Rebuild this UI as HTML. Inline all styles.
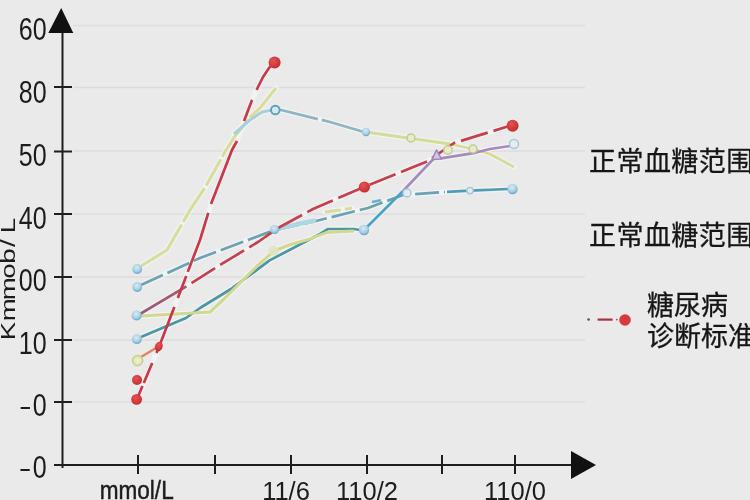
<!DOCTYPE html>
<html><head><meta charset="utf-8"><style>
html,body{margin:0;padding:0;background:#eaeaea;width:750px;height:500px;overflow:hidden}
svg{display:block}
.t{font-family:"Liberation Sans",Arial,sans-serif;fill:#1c1c1c}
.c{font-family:"Liberation Sans","Noto Sans CJK SC",sans-serif;fill:#161616}
</style></head><body>
<svg width="750" height="500" viewBox="0 0 750 500">
<rect width="750" height="500" fill="#eaeaea"/>
<!-- gridlines -->
<g stroke="#dddddd" stroke-width="1.6">
<line x1="73" y1="25.5" x2="585" y2="25.5"/>
<line x1="73" y1="87.5" x2="585" y2="87.5"/>
<line x1="73" y1="151" x2="585" y2="151"/>
<line x1="73" y1="214" x2="585" y2="214"/>
<line x1="73" y1="277" x2="585" y2="277"/>
<line x1="73" y1="340" x2="585" y2="340"/>
<line x1="73" y1="402" x2="585" y2="402"/>
</g>
<!-- axes -->
<g stroke="#1e1e1e" stroke-width="2" fill="none">
<line x1="62.5" y1="28" x2="62.5" y2="468"/>
<line x1="54" y1="465" x2="575" y2="465"/>
<line x1="54" y1="87" x2="72" y2="87"/>
<line x1="54" y1="151.5" x2="72" y2="151.5"/>
<line x1="54" y1="214" x2="72" y2="214"/>
<line x1="54" y1="277" x2="72" y2="277"/>
<line x1="54" y1="340" x2="72" y2="340"/>
<line x1="54" y1="402" x2="72" y2="402"/>
<line x1="138" y1="455" x2="138" y2="474"/>
<line x1="215" y1="455" x2="215" y2="474"/>
<line x1="291" y1="455" x2="291" y2="474"/>
<line x1="367" y1="455" x2="367" y2="474"/>
<line x1="442" y1="455" x2="442" y2="474"/>
<line x1="515" y1="455" x2="515" y2="474"/>
</g>
<polygon points="61.2,8 48.3,33 73.3,33" fill="#111"/>
<polygon points="571,451 596,465 571,479" fill="#111"/>
<!-- y labels -->
<g class="t" font-size="32.2" text-anchor="end" transform="translate(46.7,0) scale(0.778,1)">
<text x="0" y="40.5">60</text>
<text x="0" y="103.5">80</text>
<text x="0" y="166.1">50</text>
<text x="0" y="228.6">40</text>
<text x="0" y="291.2">00</text>
<text x="0" y="353.8">10</text>
<text x="0" y="415.6">0</text>
<text x="0" y="478">0</text>
</g>
<g class="t" font-size="29.5">
<text transform="translate(19,415) scale(1.29,0.9)">-</text>
<text transform="translate(18.7,477) scale(1.29,0.9)">-</text>
</g>
<text class="t" font-size="20" transform="translate(14.8,340.5) rotate(-90) scale(1.38,1)" x="0.17 13.89 29.1 44.81 55.6 67.75 77.7" y="0">Kmmob/L</text>
<!-- x labels -->
<g class="t" font-size="25.5" text-anchor="middle">
<text x="136.7" y="499" textLength="74" lengthAdjust="spacingAndGlyphs" stroke="#1c1c1c" stroke-width="0.45">mmol/L</text>
<text x="286" y="499.5">11/6</text>
<text x="367" y="499.5">110/2</text>
<text x="515" y="499.5">110/0</text>
</g>
<!-- legend -->
<g class="c" font-size="27" stroke="#161616" stroke-width="0.3">
<text x="589" y="171" letter-spacing="0.45">正常血糖范围</text>
<text x="589" y="245" letter-spacing="0.45">正常血糖范围</text>
<text x="647" y="314.5">糖尿病</text>
<text x="647" y="345.5">诊断标准</text>
</g>
<g>
<circle cx="588.6" cy="319.5" r="1.3" fill="#555"/>
<line x1="597.6" y1="319.6" x2="612.6" y2="319.6" stroke="#a8303e" stroke-width="2.2"/>
<circle cx="616.8" cy="319.6" r="0.9" fill="#8a6060"/>
<circle cx="625" cy="320" r="5.8" fill="#d83a3c"/>
</g>
<!-- data lines -->
<defs>
<radialGradient id="gb" cx="0.45" cy="0.35" r="0.75">
<stop offset="0" stop-color="#d8ecf4"/><stop offset="0.55" stop-color="#a6cee2"/><stop offset="1" stop-color="#4a8fbe"/>
</radialGradient>
<radialGradient id="gr" cx="0.4" cy="0.35" r="0.7">
<stop offset="0" stop-color="#e45454"/><stop offset="1" stop-color="#c42a30"/>
</radialGradient>
<radialGradient id="gy" cx="0.5" cy="0.5" r="0.5">
<stop offset="0" stop-color="#eef1d6"/><stop offset="0.6" stop-color="#e4e9bf"/><stop offset="1" stop-color="#c9d08a"/>
</radialGradient>
<linearGradient id="gcr" gradientUnits="userSpaceOnUse" x1="137" y1="0" x2="196" y2="0">
<stop offset="0" stop-color="#9a5c7c"/><stop offset="0.8" stop-color="#a45672"/><stop offset="1" stop-color="#c6404c"/>
</linearGradient>
</defs>
<g fill="none" stroke="#f7fafa" stroke-opacity="0.55" stroke-linecap="round" stroke-linejoin="round">
<polyline points="141,266 167,250 178.5,230 190,210 206,186 226,150 234,137.6 250.8,116.6 260,108 276,88" stroke-width="5.8"/>
<polyline points="234,134 250,120 262,112 272,110" stroke-width="5.6"/>
<polyline points="279,109.5 330,122 364,132" stroke-width="5.4"/>
<polyline points="366,132 408,138 450,144 473,149 490,154 514,167" stroke-width="5.4"/>
<polyline points="141,285 200,258 272,231 316,221 368,208 403,195 445,192" stroke-width="5.3"/>
<polyline points="447,191.8 470,190.7 508,189" stroke-width="5.3"/>
<polyline points="325,212 340,210 352,208" stroke-width="5.6"/>
<polyline points="141,337 186,318 200,308 231,289 269.6,260.4 320,234 328,229 354,229 360,230" stroke-width="5.3"/>
<polyline points="141,316 210,312 224,299 257,266 274,251 289,245 308,239.6 327,232.4 354,231" stroke-width="5.3"/>
<polyline points="367,227 403,191" stroke-width="5.3"/>
<polyline points="403,191 431,161.5 437,156 441,158.4 458,155.6 475,152.8 490,149 510,146" stroke-width="5.3"/>
<polyline points="140,314 187,286 220,265 258,242 279,227.5 313,209 364,187 428,161 454,143 506,127 512,126" stroke-width="5.3"/>
<polyline points="137,399 159,347 200,240 211,204 232,150 237,141 244,121 252,100 257,89 263,77 269,68 275,62" stroke-width="5.3"/>
</g>
<g fill="none" stroke-linecap="butt" stroke-linejoin="round">
<!-- yellow-green steep -->
<polyline points="141,266 167,250 178.5,230 190,210 206,186 226,150 234,137.6 250.8,116.6 260,108 276,88" stroke="#d8dd9e" stroke-width="3.2" stroke-dasharray="60 3 40 3 30 3 45 3 60 3"/>
<!-- light blue overlay to marker -->
<polyline points="234,134 250,120 262,112 272,110" stroke="#a9cfdc" stroke-width="3"/>
<!-- light blue top then yellow-green -->
<polyline points="279,109.5 330,122 364,132" stroke="#8db5c6" stroke-width="2.8" stroke-dasharray="40 4 50"/>
<polyline points="366,132 408,138 450,144 473,149 490,154 514,167" stroke="#d4dc98" stroke-width="2.8"/>
<!-- steel blue dashed from M2 -->
<polyline points="141,285 200,258 272,231 316,221 368,208 403,195 445,192" stroke="#6ca2b3" stroke-width="2.7" stroke-dasharray="24 5"/>
<polyline points="447,191.8 470,190.7 508,189" stroke="#4d9db8" stroke-width="2.7"/>
<polyline points="279,228.5 298,224 316,220.5" stroke="#acd7e3" stroke-width="4.4"/>
<polyline points="372,202 381,200.3" stroke="#6db0cc" stroke-width="2.6"/>
<!-- light green short segment -->
<polyline points="325,212 340,210 352,208" stroke="#d6dc9c" stroke-width="3" stroke-dasharray="16 4"/>
<!-- teal from M4 -->
<polyline points="141,337 186,318 200,308 231,289 269.6,260.4 320,234 328,229 354,229 360,230" stroke="#4e96a4" stroke-width="2.7"/>
<!-- yellow from M3 -->
<polyline points="141,316 210,312 224,299 257,266 274,251 289,245 308,239.6 327,232.4 354,231" stroke="#d2d88e" stroke-width="3.1"/>
<!-- blue up to purple -->
<polyline points="367,227 403,191" stroke="#4aa2c8" stroke-width="2.7"/>
<polyline points="403,191 431,161.5 437,156 441,158.4 458,155.6 475,152.8 490,149 510,146" stroke="#a68cbe" stroke-width="2.7"/>
<!-- crimson long dashed from M3 -->
<polyline points="140,314 187,286 220,265 258,242 279,227.5 313,209 364,187 428,161 454,143 506,127 512,126" stroke="url(#gcr)" stroke-width="2.7" stroke-dasharray="54 6 28 6 28 6 28 6 28 6 28 6 28 6 28 6 28 6 28 6 28 6 28 6 28 6"/>
<!-- red steep dashed -->
<polyline points="137,399 159,347 200,240 211,204 232,150 237,141 244,121 252,100 257,89 263,77 269,68 275,62" stroke="#c93846" stroke-width="2.7" stroke-dasharray="14.1 3.3 21.7 10.9 49.4 9.6 23.6 4.3 62.5 9.4 68.2 21.2 22.5 11.0 38.8 1"/>
<!-- orange from M5 -->
<line x1="141" y1="357" x2="156" y2="348" stroke="#e08466" stroke-width="2.6"/>
</g>
<!-- markers -->
<g fill="url(#gb)">
<circle cx="137.2" cy="269" r="4.9"/>
<circle cx="137.2" cy="287" r="4.9"/>
<circle cx="136.6" cy="315.5" r="5.1"/>
<circle cx="136.8" cy="339.2" r="4.9"/>

<circle cx="364" cy="230" r="5.2"/>
<circle cx="512.5" cy="189" r="5.2"/>
<circle cx="274.5" cy="229.5" r="4.5"/>
</g>
<g fill="#e4eef0" stroke="#a8c8d4" stroke-width="1.5">
<circle cx="407" cy="193" r="4"/>
<circle cx="514" cy="144" r="4.5"/>
<circle cx="470" cy="190.6" r="3.2"/>
</g>
<g fill="#e6ebcf" stroke="#c4cc86" stroke-width="1.5">
<circle cx="411" cy="138" r="4"/>
<circle cx="473" cy="149" r="4"/>
<circle cx="448" cy="150" r="4.2"/>

</g>
<circle cx="137.6" cy="360.6" r="5.3" fill="url(#gy)" stroke="#c6ce88" stroke-width="1"/>
<circle cx="366" cy="132" r="4.2" fill="url(#gb)"/>
<circle cx="275.3" cy="110" r="4.3" fill="#d4e9f0" stroke="#5f9fba" stroke-width="1.9"/>
<polygon points="436.5,150 432,159.5 441.5,159" fill="#d6c6e0" stroke="#a486bc" stroke-width="1.6" stroke-linejoin="round"/>
<circle cx="273.6" cy="251" r="5" fill="#dfe6c2" opacity="0.9"/>
<g fill="url(#gr)">
<circle cx="136.6" cy="399.4" r="5.4"/>
<circle cx="137" cy="380" r="5"/>
<ellipse cx="158.8" cy="346.5" rx="3.8" ry="5" transform="rotate(22 158.8 346.5)"/>
<circle cx="274.6" cy="62.4" r="6"/>
<circle cx="364.4" cy="187" r="5.6"/>
<circle cx="512.6" cy="125.7" r="6"/>
</g>
</svg>
</body></html>
